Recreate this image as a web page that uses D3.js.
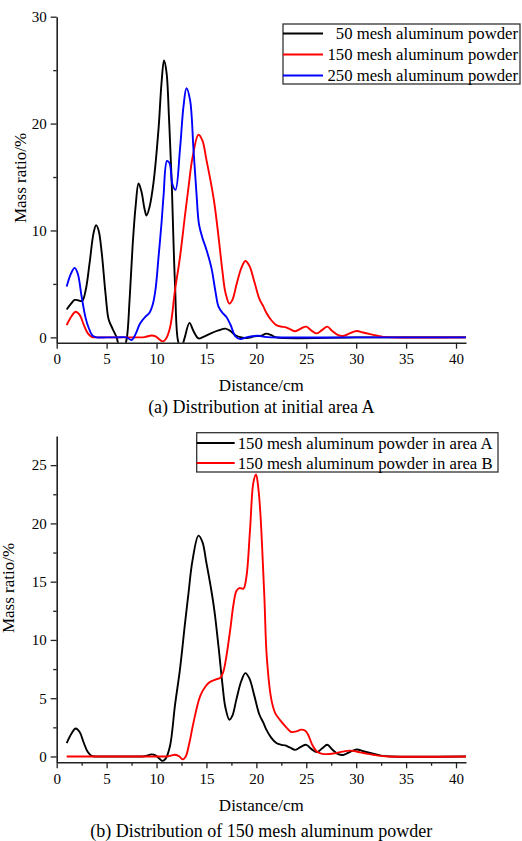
<!DOCTYPE html>
<html>
<head>
<meta charset="utf-8">
<script src="https://cdn.jsdelivr.net/npm/d3@7"></script>
<style>
  body { margin: 0; background: #fff; }
  svg { display: block; }
  text { font-family: "Liberation Serif", "Times New Roman", serif; fill: #000; }
</style>
</head>
<body>
<svg id="chart" width="522" height="841"></svg>
<script>
// ---------------- DATA ----------------
// [distance (cm), mass ratio (%)]
const mesh50A = [
  [1, 2.6], [1.4, 3.1], [1.8, 3.5], [2.2, 3.45], [2.55, 3.4], [2.9, 4.4], [3.3, 7.0], [3.7, 9.8],
  [3.95, 10.5], [4.2, 10.0], [4.5, 8.0], [4.9, 4.0], [5.2, 1.7], [5.6, 0.8], [6.0, 0.0], [6.3, -0.9],
  [6.7, -1.0], [7.0, -0.2], [7.3, 3.5], [7.6, 8.5], [7.9, 12.2], [8.2, 14.4], [8.5, 13.6], [8.8, 12.0],
  [9.0, 11.4], [9.3, 12.2], [9.7, 14.5], [10.2, 19.5], [10.5, 23.8], [10.75, 25.9], [11.0, 24.8],
  [11.25, 20.5], [11.5, 15.0], [11.85, 5.0], [12.2, -0.5], [12.5, -0.9], [12.8, -0.1], [13.3, 1.35],
  [13.7, 0.6], [14.2, -0.1], [14.7, 0.05], [15.5, 0.4], [16.2, 0.65], [16.9, 0.82], [17.4, 0.6],
  [17.9, 0.2], [18.5, 0.0], [19.2, -0.05], [19.8, 0.1], [20.5, 0.15], [21.0, 0.35], [21.5, 0.2],
  [22.0, 0.0], [30, 0.0], [41, 0.0]
];
const mesh150A = [
  [1, 1.15], [1.5, 2.0], [1.9, 2.4], [2.3, 2.1], [2.7, 1.2], [3.1, 0.4], [3.5, 0.05], [4, 0], [5, 0],
  [6, 0], [7, 0], [8, 0], [8.8, 0.02], [9.5, 0.18], [9.9, 0.1], [10.3, -0.2], [10.6, -0.38],
  [10.9, -0.2], [11.35, 0.9], [11.85, 4.4], [12.35, 7.5], [12.85, 11.4], [13.2, 14.0], [13.6, 16.8],
  [14.2, 18.95], [14.6, 18.4], [15.0, 16.6], [15.5, 14.2], [15.8, 12.5], [16.2, 9.5], [16.6, 6.2],
  [16.9, 4.2], [17.3, 3.15], [17.6, 3.5], [18.0, 4.9], [18.5, 6.5], [18.9, 7.15], [19.3, 6.7],
  [19.8, 5.2], [20.3, 3.6], [20.7, 2.9], [21.0, 2.3], [21.5, 1.6], [22.0, 1.15], [22.5, 1.0],
  [22.9, 0.95], [23.4, 0.75], [23.9, 0.57], [24.5, 0.85], [25.0, 1.0], [25.5, 0.65], [26.05, 0.37],
  [26.6, 0.7], [27.1, 1.0], [27.6, 0.6], [28.2, 0.2], [28.7, 0.13], [29.4, 0.4], [30.05, 0.6],
  [30.7, 0.45], [31.4, 0.3], [32.0, 0.18], [32.7, 0.05], [33.5, 0], [41, 0]
];
const mesh250A = [
  [1, 4.75], [1.4, 5.9], [1.8, 6.5], [2.1, 6.0], [2.5, 3.8], [2.9, 1.8], [3.2, 0.9], [3.6, 0.15],
  [4.0, 0.0], [5, 0], [6, 0], [7.0, 0.0], [7.5, -0.25], [7.9, 0.3], [8.35, 1.3], [8.85, 1.9],
  [9.3, 2.3], [9.6, 3.0], [9.9, 4.5], [10.2, 7.5], [10.5, 10.7], [10.7, 13.2], [11.05, 16.5],
  [11.3, 16.3], [11.6, 14.3], [11.9, 13.8], [12.35, 17.6], [12.7, 21.6], [13.0, 23.3], [13.36, 22.2],
  [13.7, 17.6], [14.0, 13.5], [14.25, 10.6], [14.6, 9.3], [15.0, 8.2], [15.5, 6.5], [15.9, 4.3],
  [16.2, 2.9], [16.6, 2.3], [17.0, 1.9], [17.4, 1.2], [17.9, 0.1], [18.4, -0.15], [19.0, 0.0],
  [19.6, 0.1], [20.2, 0.15], [20.8, 0.05], [21.5, 0.0], [30, 0], [41, 0]
];
const mesh150B = [
  [1, 0], [5, 0], [10, 0], [11.2, 0.02], [11.85, 0.15], [12.3, 0.0], [12.6, -0.25], [12.9, -0.05],
  [13.3, 1.2], [13.7, 2.9], [14.36, 5.15], [14.9, 6.0], [15.36, 6.4], [15.9, 6.6], [16.4, 6.75],
  [16.7, 7.3], [17.0, 8.6], [17.4, 11.0], [17.7, 13.0], [18.0, 14.2], [18.3, 14.45], [18.7, 14.4],
  [19.0, 15.4], [19.37, 19.5], [19.7, 23.5], [19.97, 24.2], [20.2, 23.0], [20.4, 20.9], [20.8, 13.7],
  [21.04, 8.6], [21.5, 4.9], [21.9, 3.7], [22.4, 3.1], [23.0, 2.5], [23.5, 2.1], [24.0, 2.15],
  [24.5, 2.3], [24.9, 2.2], [25.2, 1.85], [25.6, 1.0], [26.05, 0.43], [26.5, 0.25], [27.05, 0.2],
  [27.7, 0.25], [28.4, 0.37], [29.4, 0.5], [30.4, 0.35], [31.0, 0.25], [31.7, 0.15], [32.4, 0.05],
  [33.1, 0], [41, 0]
];

const xTicks = [0, 5, 10, 15, 20, 25, 30, 35, 40];
const xMinorTicksB = [2.5, 7.5, 12.5, 17.5, 22.5, 27.5, 32.5, 37.5];
const yTicksA = [0, 10, 20, 30];
const yMinorTicksA = [5, 15, 25];
const yTicksB = [0, 5, 10, 15, 20, 25];
const yMinorTicksB = [2.5, 7.5, 12.5, 17.5, 22.5];

const seriesA = [
  { name: "50 mesh aluminum powder", label: "50 mesh aluminum powder", color: "#000000", data: mesh50A },
  { name: "150 mesh aluminum powder", label: "150 mesh aluminum powder", color: "#ff0000", data: mesh150A },
  { name: "250 mesh aluminum powder", label: "250 mesh aluminum powder", color: "#0000ff", data: mesh250A }
];
const seriesB = [
  { label: "150 mesh aluminum powder in area A", color: "#000000", data: mesh150A },
  { label: "150 mesh aluminum powder in area B", color: "#ff0000", data: mesh150B }
];

// ---------------- DRAW ----------------
const svg = d3.select("#chart");
const axisColor = "#222";

function panel(cfg) {
  const g = svg.append("g");
  const x = d3.scaleLinear().domain([0, 41]).range([cfg.left, cfg.right]);
  const y = d3.scaleLinear().domain(cfg.yDomain).range([cfg.bottom, cfg.top]);

  const clipId = "clip" + cfg.id;
  svg.append("clipPath").attr("id", clipId)
    .append("rect").attr("x", cfg.left).attr("y", cfg.top - 2)
    .attr("width", cfg.right - cfg.left).attr("height", cfg.bottom - cfg.top + 2);

  const line = d3.line().x(d => x(d[0])).y(d => y(d[1])).curve(d3.curveCatmullRom.alpha(0.5));
  g.append("g").attr("clip-path", `url(#${clipId})`)
    .selectAll("path").data(cfg.series).join("path")
    .attr("d", s => line(s.data)).attr("fill", "none")
    .attr("stroke", s => s.color).attr("stroke-width", 1.9).attr("stroke-linejoin", "round");

  // minor ticks
  if (cfg.xMinor) {
    g.append("g").attr("transform", `translate(0,${cfg.bottom})`)
      .call(d3.axisBottom(x).tickValues(cfg.xMinor).tickSize(3.5).tickFormat(""))
      .call(a => a.select(".domain").remove())
      .selectAll("line").attr("stroke", axisColor).attr("stroke-width", 1.3);
  }
  g.append("g").attr("transform", `translate(${cfg.left},0)`)
    .call(d3.axisLeft(y).tickValues(cfg.yMinor).tickSize(3.5).tickFormat(""))
    .call(a => a.select(".domain").remove())
    .selectAll("line").attr("stroke", axisColor).attr("stroke-width", 1.3);

  // major axes
  const xa = g.append("g").attr("transform", `translate(0,${cfg.bottom})`)
    .call(d3.axisBottom(x).tickValues(xTicks).tickSize(6).tickSizeOuter(0).tickPadding(5));
  const ya = g.append("g").attr("transform", `translate(${cfg.left},0)`)
    .call(d3.axisLeft(y).tickValues(cfg.yTicks).tickSize(6).tickSizeOuter(0).tickPadding(4));
  [xa, ya].forEach(a => {
    a.select(".domain").attr("stroke", axisColor).attr("stroke-width", 1.6);
    a.selectAll(".tick line").attr("stroke", axisColor).attr("stroke-width", 1.3);
    a.selectAll(".tick text").attr("font-family", '"Liberation Serif", serif')
      .attr("font-size", 15).attr("fill", "#000");
  });

  // axis titles
  g.append("text").attr("x", (cfg.left + cfg.right) / 2).attr("y", cfg.xTitleY)
    .attr("text-anchor", "middle").attr("dominant-baseline", "central")
    .attr("font-size", 17).text("Distance/cm");
  g.append("text").attr("transform", `translate(${cfg.yTitleX},${cfg.yTitleY}) rotate(-90)`)
    .attr("text-anchor", "middle").attr("dominant-baseline", "central")
    .attr("font-size", 17).text("Mass ratio/%");
  g.append("text").attr("x", (cfg.left + cfg.right) / 2).attr("y", cfg.captionY)
    .attr("text-anchor", "middle").attr("dominant-baseline", "central")
    .attr("font-size", 18).text(cfg.caption);

  // legend
  const L = cfg.legend;
  const lg = g.append("g");
  lg.append("rect").attr("x", L.x).attr("y", L.y).attr("width", L.w).attr("height", L.h)
    .attr("fill", "#fff").attr("stroke", "#333").attr("stroke-width", 1.3);
  cfg.series.forEach((s, i) => {
    const cy = L.y + L.first + i * L.step;
    lg.append("line").attr("x1", L.x).attr("x2", L.x + L.lineLen).attr("y1", cy).attr("y2", cy)
      .attr("stroke", s.color).attr("stroke-width", 1.9);
    lg.append("text").attr("x", L.anchor === "end" ? L.x + L.w - 2 : L.x + L.lineLen + 3)
      .attr("y", cy).attr("dominant-baseline", "central")
      .attr("text-anchor", L.anchor).attr("font-size", 16.7).text(s.label);
  });
}

panel({
  id: "A", left: 56.7, right: 466, top: 16.7, bottom: 342.7, yDomain: [-0.5, 30],
  yTicks: yTicksA, yMinor: yMinorTicksA, xMinor: null, series: seriesA,
  xTitleY: 385, yTitleX: 20, yTitleY: 178, captionY: 407,
  caption: "(a) Distribution at initial area A",
  legend: { x: 283, y: 24, w: 237, h: 60, first: 9.5, step: 21, lineLen: 40, anchor: "end" }
});
panel({
  id: "B", left: 56.7, right: 466, top: 436, bottom: 762.3, yDomain: [-0.5, 27.5],
  yTicks: yTicksB, yMinor: yMinorTicksB, xMinor: xMinorTicksB, series: seriesB,
  xTitleY: 805, yTitleX: 8, yTitleY: 588, captionY: 831,
  caption: "(b) Distribution of 150 mesh aluminum powder",
  legend: { x: 196.7, y: 432.7, w: 301.3, h: 39.3, first: 10.3, step: 20, lineLen: 38, anchor: "start" }
});
</script>
</body>
</html>
